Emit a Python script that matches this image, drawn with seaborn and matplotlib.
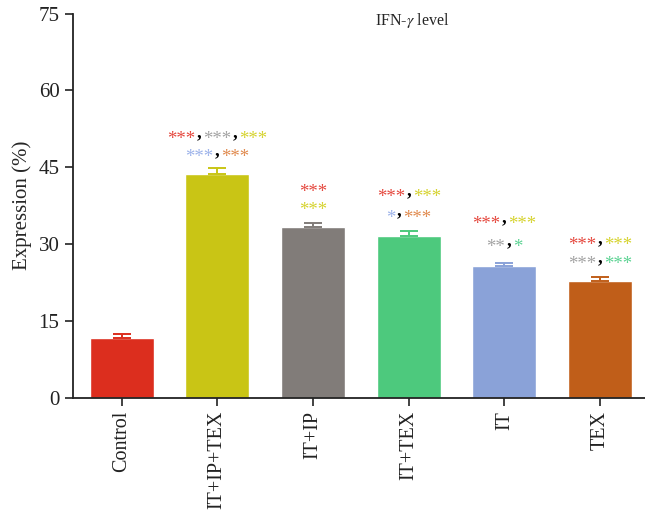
import matplotlib
matplotlib.use("Agg")
import matplotlib.pyplot as plt
import matplotlib.transforms as mtransforms
import seaborn as sns
import pandas as pd

# ---- data ----
groups = ["Control", "IT+IP+TEX", "IT+IP", "IT+TEX", "IT", "TEX"]
means = [11.6, 43.7, 33.3, 31.6, 25.6, 22.75]
errors = [0.8, 1.1, 0.7, 0.9, 0.7, 0.7]
bar_colors = ["#DC2E1E", "#C9C515", "#817C79", "#4DC97D", "#8AA2D8", "#C05E19"]
yticks = [0, 15, 30, 45, 60, 75]

# significance marks: (group, y, [(text, color), ...])
RED, GRAY, YEL, BLUE, ORG, GRN = "#E5483E", "#A3A3A3", "#D6D32E", "#9DB3EA", "#E08A4E", "#5CD393"
sig_marks = [
    ("IT+IP+TEX", 51.4, [("***", RED), (",", "black"), ("***", GRAY), (",", "black"), ("***", YEL)]),
    ("IT+IP+TEX", 47.9, [("***", BLUE), (",", "black"), ("***", ORG)]),
    ("IT+IP", 41.2, [("***", RED)]),
    ("IT+IP", 37.7, [("***", YEL)]),
    ("IT+TEX", 40.2, [("***", RED), (",", "black"), ("***", YEL)]),
    ("IT+TEX", 36.1, [("*", BLUE), (",", "black"), ("***", ORG)]),
    ("IT", 34.8, [("***", RED), (",", "black"), ("***", YEL)]),
    ("IT", 30.4, [("**", GRAY), (",", "black"), ("*", GRN)]),
    ("TEX", 30.8, [("***", RED), (",", "black"), ("***", YEL)]),
    ("TEX", 27.1, [("***", GRAY), (",", "black"), ("***", GRN)]),
]

sns.set_style("ticks")
plt.rcParams["font.family"] = ["Liberation Serif", "DejaVu Serif"]
plt.rcParams["mathtext.fontset"] = "stix"

df = pd.DataFrame({"group": groups, "value": means})

fig = plt.figure(figsize=(6.45, 5.18), dpi=100)
ax = fig.add_axes([0.1127, 0.2326, 0.8873, 0.7411])

sns.barplot(data=df, x="group", y="value", hue="group", order=groups,
            palette=dict(zip(groups, bar_colors)), errorbar=None, width=0.67,
            saturation=1, legend=False, ax=ax)

for i, (m, e, c) in enumerate(zip(means, errors, bar_colors)):
    ax.errorbar([i], [m], yerr=[[0], [e]], fmt="none", ecolor=c,
                elinewidth=1.4, capsize=6.5, capthick=1.4, zorder=3)

ax.set_xlim(-0.511, 5.469)
ax.set_ylim(0, 75)

renderer = fig.canvas.get_renderer()
STAR_FS = 13.5
GAP_PX = 1.5
for g, y, segs in sig_marks:
    x = groups.index(g)
    texts = []
    widths = []
    for t, c in segs:
        txt = ax.text(x, y, t, color=c, fontsize=STAR_FS, ha="left", va="baseline",
                      fontweight="bold" if t == "," else "normal")
        texts.append(txt)
        widths.append(txt.get_window_extent(renderer).width)
    total = sum(widths) + GAP_PX * 2 * sum(1 for t, _ in segs if t == ",")
    cur = -total / 2
    for (t, c), txt, w in zip(segs, texts, widths):
        dy = -10
        if t == ",":
            cur += GAP_PX
            dy = -3
        tr = mtransforms.offset_copy(ax.transData, fig=fig, x=cur, y=dy,
                                     units="dots")
        txt.set_transform(tr)
        cur += w
        if t == ",":
            cur += GAP_PX

ax.text(3.04, 73.6, r"IFN-$\gamma$ level", ha="center", va="center", fontsize=11.5)

ax.set_yticks(yticks)
ax.set_yticklabels([str(v) for v in yticks], fontsize=15)
ax.set_xticks(range(len(groups)))
ax.set_xticklabels(groups, rotation=90, fontsize=14.5)
ax.set_xlabel("")
ax.set_ylabel("Expression (%)", fontsize=15, labelpad=5)
sns.despine(ax=ax)
for s in ["left", "bottom"]:
    ax.spines[s].set_linewidth(1.3)
    ax.spines[s].set_color("#222222")
ax.tick_params(axis="both", direction="out", length=6, width=1.2, color="#222222", labelcolor="#222222")

fig.savefig("out.png", dpi=100)
